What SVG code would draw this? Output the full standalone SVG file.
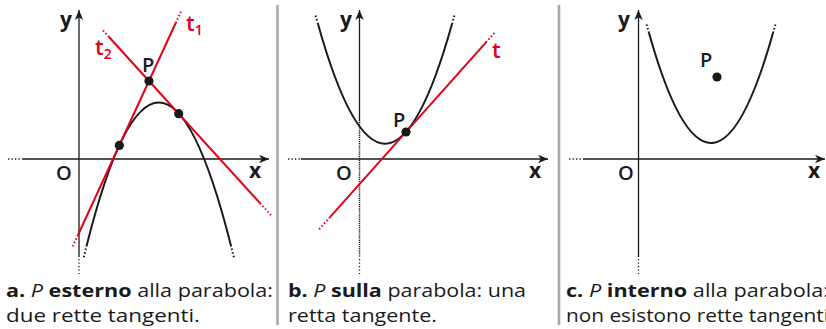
<svg xmlns="http://www.w3.org/2000/svg" width="826" height="329" viewBox="0 0 826 329">
<defs>
<marker id="arr" markerUnits="userSpaceOnUse" markerWidth="12" markerHeight="10" viewBox="-11 -5 12 10" refX="0" refY="0" orient="auto">
<path d="M0,0 L-10,-4.2 L-7.2,0 L-10,4.2 Z" fill="#1a1a1a"/>
</marker>
</defs>
<style>
.ax{stroke:#1a1a1a;stroke-width:1.3;fill:none}
.axd{stroke:#1a1a1a;stroke-width:1.3;fill:none;stroke-dasharray:1.3 2.2}
.par{stroke:#1a1a1a;stroke-width:2;fill:none}
.pard{stroke:#1a1a1a;stroke-width:2;fill:none;stroke-dasharray:1.5 2.2}
.tan{stroke:#e2001a;stroke-width:2;fill:none}
.tand{stroke:#e2001a;stroke-width:2;fill:none;stroke-dasharray:1.5 2.2}
.dot{fill:#1a1a1a}
.div{stroke:#a8a8a8;stroke-width:2.6}
.lbl{font-family:"Open Sans","Noto Sans","Liberation Sans",sans-serif;font-weight:600;font-size:20px;fill:#1a1a1a}
.axl{font-family:"Open Sans","Noto Sans","Liberation Sans",sans-serif;font-weight:700;font-size:21px;fill:#1a1a1a}
.red{font-family:"Open Sans","Noto Sans","Liberation Sans",sans-serif;font-weight:600;font-size:22px;fill:#e2001a}
.sub{font-size:14px}
.cap{font-family:"Open Sans","Noto Sans","Liberation Sans",sans-serif;font-size:17.5px;fill:#1a1a1a}
.b{font-weight:700}
.i{font-style:italic}
</style>

<line class="div" x1="277.5" y1="5" x2="277.5" y2="325"/>
<line class="div" x1="559" y1="5" x2="559" y2="325"/>

<g id="panel-a">
<line class="axd" x1="8" y1="159" x2="21" y2="159"/>
<line class="ax" x1="22" y1="159" x2="269" y2="159" marker-end="url(#arr)"/>
<line class="ax" x1="79" y1="257" x2="79" y2="10" marker-end="url(#arr)"/>
<line class="axd" x1="79" y1="259" x2="79" y2="274"/>
<text class="axl" x="60" y="27">y</text>
<text class="axl" x="249" y="178">x</text>
<text class="lbl" x="56" y="180">O</text>
<path class="par" d="M86.8,245 Q158.8,-40 230.8,245"/>
<path class="pard" d="M86.8,245 L83.4,258.6 M230.8,245 L234.2,258.6"/>
<line class="tan" x1="78" y1="235" x2="175.7" y2="23"/>
<path class="tand" d="M78,235 L72.5,247 M175.7,23 L181.5,10.5"/>
<line class="tan" x1="109" y1="37" x2="260" y2="203.1"/>
<path class="tand" d="M109,37 L102,29.3 M260,203.1 L271,215.2"/>
<circle class="dot" cx="119.3" cy="145.4" r="4.6"/>
<circle class="dot" cx="178.7" cy="113.7" r="4.6"/>
<circle class="dot" cx="149" cy="81" r="4.6"/>
<text class="lbl" x="142" y="72">P</text>
<text class="red" x="186" y="31">t<tspan class="sub" dy="4">1</tspan></text>
<text class="red" x="95" y="55">t<tspan class="sub" dy="4">2</tspan></text>
<text class="cap" x="6" y="297" textLength="267" lengthAdjust="spacingAndGlyphs"><tspan class="b">a.</tspan> <tspan class="i">P</tspan> <tspan class="b">esterno</tspan> alla parabola:</text>
<text class="cap" x="6" y="322" textLength="194" lengthAdjust="spacingAndGlyphs">due rette tangenti.</text>
</g>

<g id="panel-b">
<line class="axd" x1="288" y1="159" x2="300" y2="159"/>
<line class="ax" x1="301" y1="159" x2="548" y2="159" marker-end="url(#arr)"/>
<line class="ax" x1="359.5" y1="120" x2="359.5" y2="10" marker-end="url(#arr)"/>
<line x1="359.5" y1="120" x2="359.5" y2="257" stroke="#1a1a1a" stroke-width="1.5" stroke-dasharray="1.2 0.9"/>
<line class="axd" x1="359.5" y1="259" x2="359.5" y2="274"/>
<text class="axl" x="340" y="27">y</text>
<text class="axl" x="529" y="178">x</text>
<text class="lbl" x="336" y="180">O</text>
<path class="par" d="M318,24.1 Q385,263.5 452,24.1"/>
<path class="pard" d="M318,24.1 L315,13.5 M452,24.1 L455,13.5"/>
<line class="tan" x1="330" y1="217.1" x2="486" y2="42.4"/>
<path class="tand" d="M330,217.1 L318,230.5 M486,42.4 L495,32.3"/>
<circle class="dot" cx="406" cy="132" r="4.6"/>
<text class="lbl" x="393" y="127">P</text>
<text class="red" x="492" y="58">t</text>
<text class="cap" x="288" y="297" textLength="238" lengthAdjust="spacingAndGlyphs"><tspan class="b">b.</tspan> <tspan class="i">P</tspan> <tspan class="b">sulla</tspan> parabola: una</text>
<text class="cap" x="288" y="322" textLength="149" lengthAdjust="spacingAndGlyphs">retta tangente.</text>
</g>

<g id="panel-c">
<line class="axd" x1="569" y1="159" x2="582" y2="159"/>
<line class="ax" x1="583" y1="159" x2="825" y2="159" marker-end="url(#arr)"/>
<line class="ax" x1="638.5" y1="257" x2="638.5" y2="10" marker-end="url(#arr)"/>
<line class="axd" x1="638.5" y1="259" x2="638.5" y2="274"/>
<text class="axl" x="618" y="27">y</text>
<text class="axl" x="808" y="178">x</text>
<text class="lbl" x="618" y="180">O</text>
<path class="par" d="M649,33 Q711,253 773,33"/>
<path class="pard" d="M649,33 L646.3,23.4 M773,33 L775.7,23.4"/>
<circle class="dot" cx="717" cy="77" r="4.6"/>
<text class="lbl" x="700" y="67">P</text>
<text class="cap" x="566" y="297" textLength="263" lengthAdjust="spacingAndGlyphs"><tspan class="b">c.</tspan> <tspan class="i">P</tspan> <tspan class="b">interno</tspan> alla parabola:</text>
<text class="cap" x="566" y="322" textLength="263" lengthAdjust="spacingAndGlyphs">non esistono rette tangenti</text>
</g>
</svg>
